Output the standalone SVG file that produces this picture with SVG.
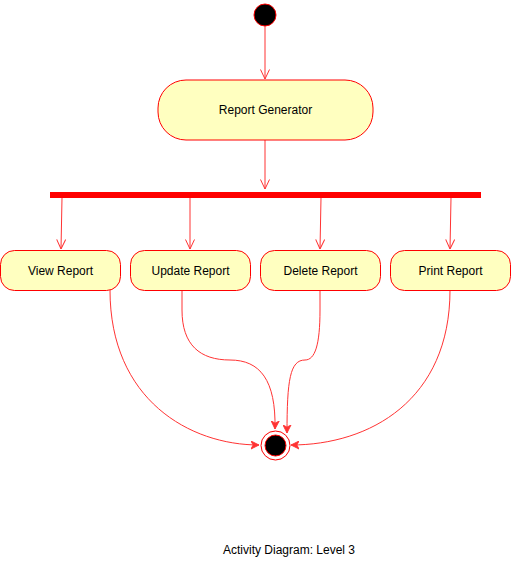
<svg xmlns="http://www.w3.org/2000/svg" width="511" height="561" viewBox="0 0 511 561">
<style>
.node{fill:#ffffc0;stroke:#ff0000;stroke-width:1}
.lbl{font-family:"Liberation Sans",Arial,sans-serif;font-size:12px;fill:#000;text-anchor:middle;dominant-baseline:central}
.edge{fill:none;stroke:#ff3333;stroke-width:1}
</style>
<defs>
<marker id="open" viewBox="0 0 10 10" refX="10" refY="5" markerWidth="10" markerHeight="10" markerUnits="userSpaceOnUse" orient="auto">
<path d="M0.5 0.5 L10 5 L0.5 9.5" fill="none" stroke="#ff3333" stroke-width="1"/>
</marker>
<marker id="filled" viewBox="0 0 10 10" refX="9" refY="5" markerWidth="9" markerHeight="9" markerUnits="userSpaceOnUse" orient="auto">
<path d="M0 0.5 L9 5 L0 9.5 L2.5 5 Z" fill="#ff3333" stroke="#ff3333" stroke-width="1"/>
</marker>
</defs>
<g id="connectors">
<path class="edge" d="M265 26 L265 79" marker-end="url(#open)"/>
<path class="edge" d="M265 140 L265 189" marker-end="url(#open)"/>
<path class="edge" d="M62 198 L61 249" marker-end="url(#open)"/>
<path class="edge" d="M190 198 L190 249" marker-end="url(#open)"/>
<path class="edge" d="M321 198 L320 249" marker-end="url(#open)"/>
<path class="edge" d="M451 198 L450 249" marker-end="url(#open)"/>
<path class="edge" d="M110 290 C110 400 190 445 259 445" marker-end="url(#filled)"/>
<path class="edge" d="M182 290 L182 310 C182 345 200 360 230 360 C260 360 276 380 275 429" marker-end="url(#filled)"/>
<path class="edge" d="M320 290 L320 310 C320 345 315 360 305 360 C290 360 287 380 287 433" marker-end="url(#filled)"/>
<path class="edge" d="M450 290 C450 400 370 445 291 445" marker-end="url(#filled)"/>
</g>
<g id="start"><circle cx="265" cy="15" r="11" fill="#000" stroke="#ff0000"/></g>
<g id="report-generator"><rect class="node" x="158" y="80" width="215" height="60" rx="28" ry="28"/><text class="lbl" x="265.5" y="110">Report Generator</text></g>
<g id="fork"><rect x="50.5" y="192.5" width="430" height="5" fill="#ff0000" stroke="#ff0000"/></g>
<g id="view-report"><rect class="node" x="0.5" y="250.5" width="120" height="40" rx="14" ry="14"/><text class="lbl" x="60.5" y="270.5">View Report</text></g>
<g id="update-report"><rect class="node" x="130.5" y="250.5" width="120" height="40" rx="14" ry="14"/><text class="lbl" x="190.5" y="270.5">Update Report</text></g>
<g id="delete-report"><rect class="node" x="260.5" y="250.5" width="120" height="40" rx="14" ry="14"/><text class="lbl" x="320.5" y="270.5">Delete Report</text></g>
<g id="print-report"><rect class="node" x="390.5" y="250.5" width="120" height="40" rx="14" ry="14"/><text class="lbl" x="450.5" y="270.5">Print Report</text></g>
<g id="end"><circle cx="275.5" cy="445.5" r="14.5" fill="#fff" stroke="#ff0000"/><circle cx="275.5" cy="445.5" r="10.5" fill="#000" stroke="#ff0000"/></g>
<g id="title"><text class="lbl" x="289" y="550">Activity Diagram: Level 3</text></g>
</svg>
